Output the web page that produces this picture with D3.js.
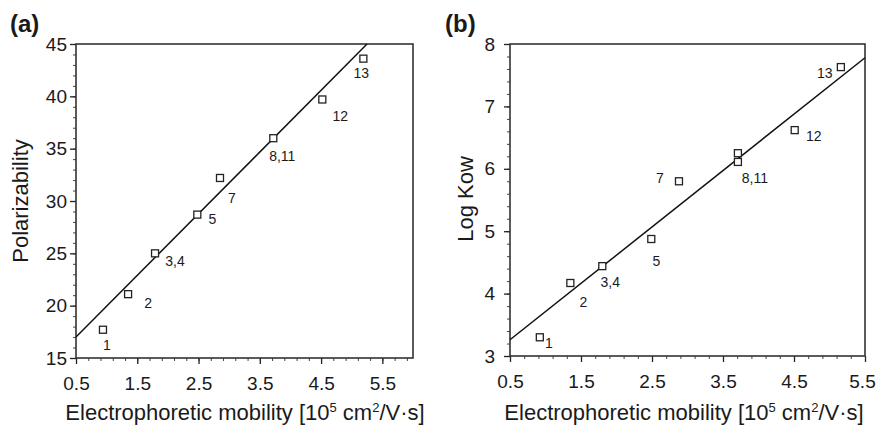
<!DOCTYPE html>
<html>
<head>
<meta charset="utf-8">
<script src="https://cdn.jsdelivr.net/npm/d3@7"></script>
<style>
  body { margin: 0; background: #fff; }
  svg text { font-family: "Liberation Sans", Arial, Helvetica, sans-serif; fill: #1a1a1a; }
</style>
</head>
<body>
<div id="chart"></div>
<script>
// panel (a): polarizability vs mobility
var mobilityA = [0.94, 1.35, 1.79, 2.48, 2.85, 3.72, 4.52, 5.19]
var polarA    = [17.7, 21.1, 25.0, 28.7, 32.2, 36.0, 39.7, 43.6]
var labelsA   = ["1", "2", "3,4", "5", "7", "8,11", "12", "13"]
var fitA      = [[0.5, 17.0], [5.25, 45]]
var yTicksA   = [15, 20, 25, 30, 35, 40, 45]

// panel (b): log Kow vs mobility
var mobilityB = [0.92, 1.35, 1.80, 2.49, 2.88, 3.71, 3.71, 4.51, 5.16]
var logKowB   = [3.30, 4.17, 4.44, 4.875, 5.80, 6.25, 6.11, 6.62, 7.63]
var labelsB   = ["1", "2", "3,4", "5", "7", "", "8,11", "12", "13"]
var fitB      = [[0.5, 3.26], [5.5, 7.78]]
var yTicksB   = [3, 4, 5, 6, 7, 8]

var xTicks = [0.5, 1.5, 2.5, 3.5, 4.5, 5.5]

// label nudges in px (layout only)
var offA = [[4, 20], [20, 14], [20, 13], [15, 9], [12, 25], [9, 23], [18, 22], [-2, 19]]
var offB = [[9, 11], [13, 24], [8, 21], [5, 27], [-19, 2], [0, 0], [17, 21], [19, 11], [-16, 11]]

var svg = d3.select("#chart").append("svg")
    .attr("width", 877)
    .attr("height", 426)

function drawPanel(opt) { //{{{
  var x = d3.scaleLinear().domain(opt.xDomain).range([opt.left, opt.right])
  var y = d3.scaleLinear().domain(opt.yDomain).range([opt.bottom, opt.top])
  var g = svg.append("g")

  // minor ticks
  var xMinor = d3.range(opt.xDomain[0], opt.xDomain[1] + 1e-9, 0.2)
  g.append("g")
      .attr("transform", "translate(0," + opt.bottom + ")")
      .call(d3.axisBottom(x).tickValues(xMinor).tickSize(3).tickFormat(""))
      .call(a => a.select(".domain").remove())
      .selectAll("line").attr("stroke", "#444")
  g.append("g")
      .attr("transform", "translate(" + opt.left + ",0)")
      .call(d3.axisLeft(y).tickValues(d3.range(opt.yDomain[0], opt.yDomain[1] + 1e-9, opt.yMinor)).tickSize(3).tickFormat(""))
      .call(a => a.select(".domain").remove())
      .selectAll("line").attr("stroke", "#444")

  // major ticks + labels
  var xa = g.append("g")
      .attr("transform", "translate(0," + opt.bottom + ")")
      .call(d3.axisBottom(x).tickValues(xTicks).tickSize(6).tickPadding(13).tickFormat(d3.format(".1f")))
  xa.select(".domain").remove()
  xa.selectAll("line").attr("stroke", "#222").attr("stroke-width", 1.3)
  xa.selectAll("text").style("font-size", "19px")
    .attr("dx", d => (opt.right > 860 && d == 5.5) ? -3 : 0)

  var ya = g.append("g")
      .attr("transform", "translate(" + opt.left + ",0)")
      .call(d3.axisLeft(y).tickValues(opt.yTicks).tickSize(6).tickPadding(opt.yPad).tickFormat(d3.format("d")))
  ya.select(".domain").remove()
  ya.selectAll("line").attr("stroke", "#222").attr("stroke-width", 1.3)
  ya.selectAll("text").style("font-size", "19px")

  // frame
  g.append("rect")
      .attr("x", opt.left).attr("y", opt.top)
      .attr("width", opt.right - opt.left).attr("height", opt.bottom - opt.top)
      .attr("fill", "none").attr("stroke", "#333").attr("stroke-width", 1.6)

  // fit line
  g.append("path")
      .datum(opt.fit)
      .attr("d", d3.line().x(d => x(d[0])).y(d => y(d[1])))
      .attr("fill", "none").attr("stroke", "#111").attr("stroke-width", 1.5)

  var pts = opt.xs.map((v, i) => ({ x: v, y: opt.ys[i], label: opt.labels[i], off: opt.off[i] }))

  g.selectAll("rect.pt")
      .data(pts)
    .enter().append("rect")
      .attr("class", "pt")
      .attr("x", d => x(d.x) - 3.5).attr("y", d => y(d.y) - 3.5)
      .attr("width", 7).attr("height", 7)
      .attr("fill", "#fff").attr("stroke", "#222").attr("stroke-width", 1.3)

  g.selectAll("text.lab")
      .data(pts.filter(d => d.label))
    .enter().append("text")
      .attr("class", "lab")
      .attr("x", d => x(d.x) + d.off[0])
      .attr("y", d => y(d.y) + d.off[1])
      .attr("text-anchor", "middle")
      .style("font-size", "14px")
      .text(d => d.label)

  // panel tag
  g.append("text")
      .attr("x", opt.tagX).attr("y", 32)
      .style("font-size", "24px").style("font-weight", "bold")
      .text(opt.tag)

  // y title
  g.append("text")
      .attr("transform", "translate(" + opt.yTitleX + "," + opt.yTitleY + ") rotate(-90)")
      .attr("text-anchor", "middle")
      .style("font-size", "22px")
      .text(opt.yTitle)

  // x title
  var xt = g.append("text")
      .attr("x", opt.xTitleX).attr("y", 420)
      .attr("text-anchor", "middle")
      .style("font-size", "22px")
  xt.append("tspan").text("Electrophoretic mobility [10")
  xt.append("tspan").attr("dy", -8).style("font-size", "13px").text("5")
  xt.append("tspan").attr("dy", 8).text(" cm")
  xt.append("tspan").attr("dy", -8).style("font-size", "13px").text("2")
  xt.append("tspan").attr("dy", 8).text("/V\u00b7s]")
} //}}}

drawPanel({
  xDomain: [0.5, 6.0], yDomain: [15, 45], yTicks: yTicksA, yMinor: 1, yPad: 3,
  left: 76, right: 413, top: 44, bottom: 358,
  xs: mobilityA, ys: polarA, labels: labelsA, off: offA, fit: fitA,
  tag: "(a)", tagX: 10, yTitle: "Polarizability", yTitleX: 28, yTitleY: 201, xTitleX: 245
})

drawPanel({
  xDomain: [0.5, 5.5], yDomain: [3, 8], yTicks: yTicksB, yMinor: 0.2, yPad: 9,
  left: 510, right: 865, top: 44, bottom: 356,
  xs: mobilityB, ys: logKowB, labels: labelsB, off: offB, fit: fitB,
  tag: "(b)", tagX: 445, yTitle: "Log Kow", yTitleX: 473, yTitleY: 199, xTitleX: 684
})
</script>
</body>
</html>
